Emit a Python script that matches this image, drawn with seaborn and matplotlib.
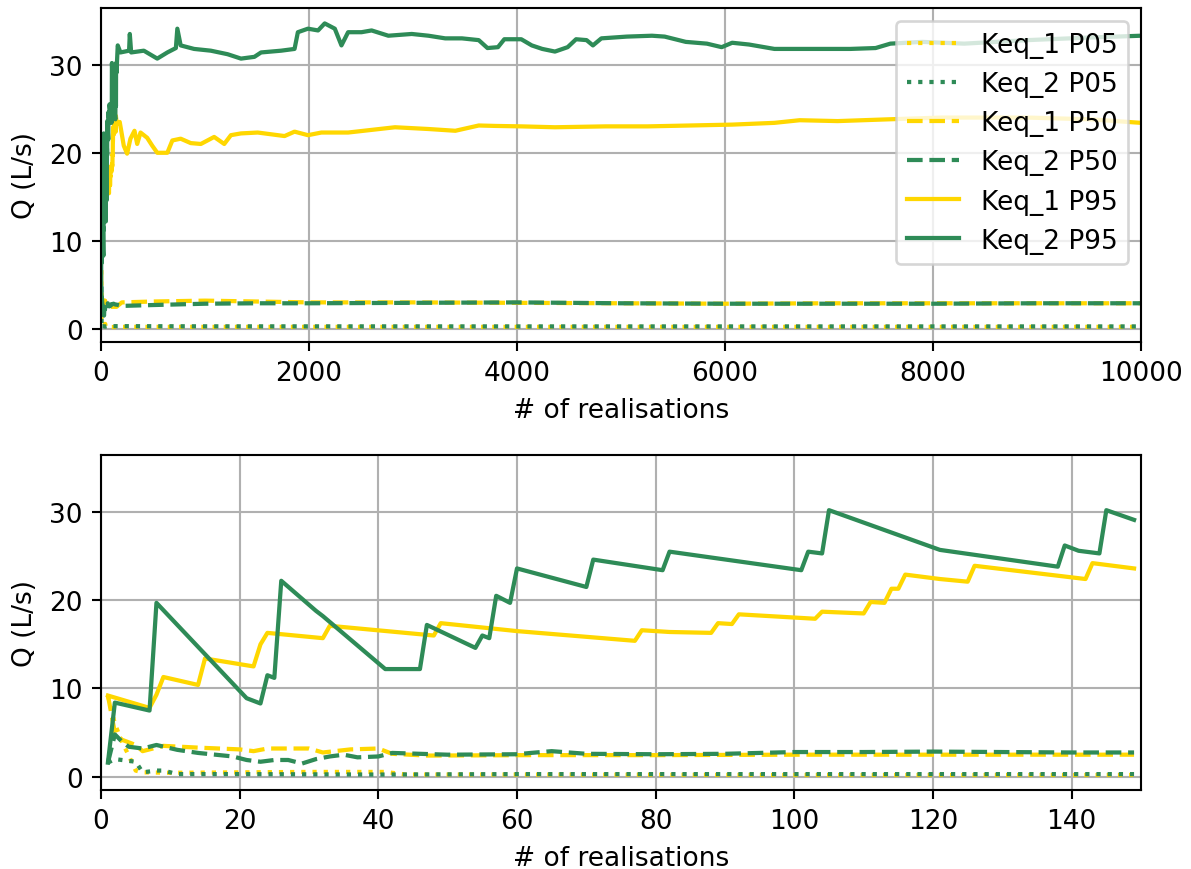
import matplotlib
matplotlib.use("Agg")
import matplotlib.pyplot as plt
import seaborn as sns
import numpy as np

# ---------------- data ----------------
# first 150 realisations (bottom panel)
k1_p05_x = [1, 2, 3, 4, 5, 6, 10, 20, 30, 41, 44, 60, 100, 149]
k1_p05_y = [9.2, 6.0, 4.0, 2.4, 0.7, 0.5, 0.45, 0.5, 0.55, 0.55, 0.25, 0.25, 0.2, 0.2]

k2_p05_x = [1, 2, 3, 5, 6, 8, 9, 11, 20, 40, 60, 100, 149]
k2_p05_y = [1.6, 2.0, 1.9, 1.7, 0.5, 0.7, 0.7, 0.3, 0.3, 0.25, 0.3, 0.3, 0.3]

k1_p50_x = [1, 2, 3, 5, 6, 9, 14, 20, 22, 24, 30, 32, 36, 40, 42, 47, 62, 80, 100, 120, 149]
k1_p50_y = [9.2, 5.0, 4.2, 3.6, 2.9, 3.5, 3.3, 3.1, 2.9, 3.2, 3.2, 2.75, 3.1, 3.2, 2.6, 2.4,
            2.45, 2.45, 2.5, 2.5, 2.5]

k2_p50_x = [1, 2, 3, 4, 6, 8, 11, 14, 19, 21, 23, 25, 27, 29, 31, 33, 35, 37, 40, 42, 50,
            60, 62, 65, 70, 80, 90, 100, 110, 120, 130, 140, 149]
k2_p50_y = [1.6, 4.8, 4.0, 3.4, 3.2, 3.6, 3.05, 2.7, 2.3, 1.9, 1.7, 1.9, 1.9, 1.5, 2.0, 2.3,
            2.5, 2.2, 2.3, 2.7, 2.5, 2.55, 2.7, 2.9, 2.6, 2.55, 2.6, 2.8, 2.8, 2.85, 2.8,
            2.75, 2.75]

k1_p95_x = [1, 7, 8, 9, 14, 15, 22, 23, 24, 32, 33, 48, 49, 60, 77, 78, 82, 88, 89, 91, 92,
            103, 104, 110, 111, 113, 114, 115, 116, 121, 125, 126, 142, 143, 149]
k1_p95_y = [9.2, 7.8, 9.3, 11.3, 10.4, 13.4, 12.5, 15.0, 16.3, 15.7, 17.1, 16.0, 17.4, 16.5,
            15.4, 16.6, 16.4, 16.3, 17.4, 17.3, 18.4, 17.9, 18.7, 18.5, 19.8, 19.7, 21.3,
            21.3, 22.9, 22.4, 22.1, 23.9, 22.4, 24.2, 23.6]

k2_p95_x = [1, 2, 7, 8, 21, 23, 24, 25, 26, 31, 32, 41, 46, 47, 54, 55, 56, 57, 59, 60, 70,
            71, 81, 82, 101, 102, 104, 105, 121, 138, 139, 141, 144, 145, 149]
k2_p95_y = [1.6, 8.4, 7.5, 19.7, 8.9, 8.3, 11.5, 11.2, 22.2, 18.8, 18.2, 12.2, 12.2, 17.2,
            14.6, 16.0, 15.7, 20.5, 19.7, 23.6, 21.5, 24.6, 23.4, 25.5, 23.4, 25.5, 25.3,
            30.2, 25.7, 23.8, 26.2, 25.6, 25.3, 30.2, 29.1]

# continuation up to 10000 realisations (top panel)
ext_p05_x = [200, 1000, 5000, 10000]
k1_p05_ext = [0.22, 0.22, 0.22, 0.22]
k2_p05_ext = [0.3, 0.28, 0.27, 0.27]

ext_p50_x = [200, 500, 1000, 1500, 2000, 3000, 4000, 5000, 6000, 7000, 8000, 9000, 10000]
k1_p50_ext = [3.0, 3.1, 3.2, 3.1, 3.0, 3.0, 2.95, 2.9, 2.85, 2.9, 2.9, 2.9, 2.9]
k2_p50_ext = [2.6, 2.7, 2.85, 2.9, 2.9, 2.95, 3.0, 2.9, 2.85, 2.85, 2.85, 2.9, 2.9]

k1_p95_ext_x = [161, 180, 219, 251, 283, 322, 348, 380, 444, 493, 541, 638, 686, 766, 863,
                960, 1088, 1185, 1249, 1346, 1507, 1636, 1765, 1861, 1990, 2119, 2376, 2827,
                3149, 3407, 3632, 3793, 4041, 4365, 4852, 5258, 5663, 6069, 6475, 6718, 7083,
                7570, 8083, 8909, 9517, 10000]
k1_p95_ext_y = [23.3, 23.5, 20.8, 19.9, 21.6, 22.5, 21.0, 22.3, 21.7, 20.8, 20.0, 20.0, 21.4,
                21.6, 21.1, 21.0, 21.8, 21.0, 22.0, 22.2, 22.3, 22.1, 21.9, 22.4, 22.0, 22.3,
                22.3, 22.9, 22.7, 22.5, 23.1, 23.05, 23.0, 22.9, 23.0, 23.0, 23.1, 23.2, 23.4,
                23.7, 23.6, 23.8, 24.0, 24.0, 23.8, 23.4]

k2_p95_ext_x = [161, 187, 270, 277, 290, 412, 541, 638, 720, 734, 766, 895, 1056, 1217, 1346,
                1475, 1539, 1732, 1861, 1893, 1990, 2087, 2151, 2248, 2312, 2376, 2505, 2602,
                2763, 2988, 3149, 3310, 3471, 3632, 3716, 3817, 3878, 4041, 4142, 4243, 4365,
                4487, 4568, 4669, 4730, 4811, 5055, 5298, 5420, 5623, 5826, 5968, 6069, 6231,
                6475, 6718, 6962, 7205, 7448, 7590, 7895, 8300, 8909, 9517, 10000]
k2_p95_ext_y = [32.2, 31.4, 31.6, 33.5, 31.4, 31.6, 30.7, 31.4, 31.9, 34.1, 32.2, 31.8, 31.6,
                31.2, 30.7, 30.9, 31.4, 31.6, 31.8, 33.7, 34.1, 33.9, 34.7, 34.1, 32.2, 33.7,
                33.7, 33.9, 33.3, 33.5, 33.3, 33.0, 33.0, 32.8, 31.9, 32.0, 32.9, 32.9, 32.2,
                31.8, 31.5, 32.0, 32.9, 32.8, 32.2, 33.0, 33.2, 33.3, 33.2, 32.6, 32.4, 32.0,
                32.5, 32.3, 31.8, 31.8, 31.8, 31.8, 31.9, 32.4, 32.6, 32.4, 32.8, 33.1, 33.3]

labels = ["Keq_1 P05", "Keq_2 P05", "Keq_1 P50", "Keq_2 P50", "Keq_1 P95", "Keq_2 P95"]
YELLOW = "#FFD700"
GREEN = "#2E8B57"

# ---------------- figure ----------------
DPI = 190
fig = plt.figure(figsize=(1191 / DPI, 870 / DPI), dpi=DPI)
plt.rcParams["font.size"] = 10
ax1 = fig.add_axes([101 / 1191, 1 - 343 / 870, 1040 / 1191, 334 / 870])
ax2 = fig.add_axes([101 / 1191, 1 - 791 / 870, 1040 / 1191, 335 / 870])

bottom_series = [
    (k1_p05_x, k1_p05_y, YELLOW, ":"),
    (k2_p05_x, k2_p05_y, GREEN, ":"),
    (k1_p50_x, k1_p50_y, YELLOW, "--"),
    (k2_p50_x, k2_p50_y, GREEN, "--"),
    (k1_p95_x, k1_p95_y, YELLOW, "-"),
    (k2_p95_x, k2_p95_y, GREEN, "-"),
]
top_ext = [
    (ext_p05_x, k1_p05_ext),
    (ext_p05_x, k2_p05_ext),
    (ext_p50_x, k1_p50_ext),
    (ext_p50_x, k2_p50_ext),
    (k1_p95_ext_x, k1_p95_ext_y),
    (k2_p95_ext_x, k2_p95_ext_y),
]

LW = 1.6
for (bx, by, c, ls), (ex, ey), lab in zip(bottom_series, top_ext, labels):
    tx = list(bx) + list(ex)
    ty = list(by) + list(ey)
    sns.lineplot(x=tx, y=ty, ax=ax1, color=c, linestyle=ls, lw=LW, label=lab,
                 estimator=None, sort=False)
    sns.lineplot(x=bx, y=by, ax=ax2, color=c, linestyle=ls, lw=LW,
                 estimator=None, sort=False)

for ax in (ax1, ax2):
    ax.set_ylim(-1.5, 36.45)
    ax.set_yticks([0, 10, 20, 30])
    ax.grid(True, color="#b0b0b0", lw=0.8)
    ax.set_axisbelow(True)
    ax.set_ylabel("Q (L/s)")
    ax.set_xlabel("# of realisations")

ax1.set_xlim(0, 10000)
ax1.set_xticks([0, 2000, 4000, 6000, 8000, 10000])
ax2.set_xlim(0, 150)
ax2.set_xticks([0, 20, 40, 60, 80, 100, 120, 140])

ax1.legend(loc="upper right")
if ax2.get_legend() is not None:
    ax2.get_legend().remove()

fig.savefig("out.png", dpi=DPI)
